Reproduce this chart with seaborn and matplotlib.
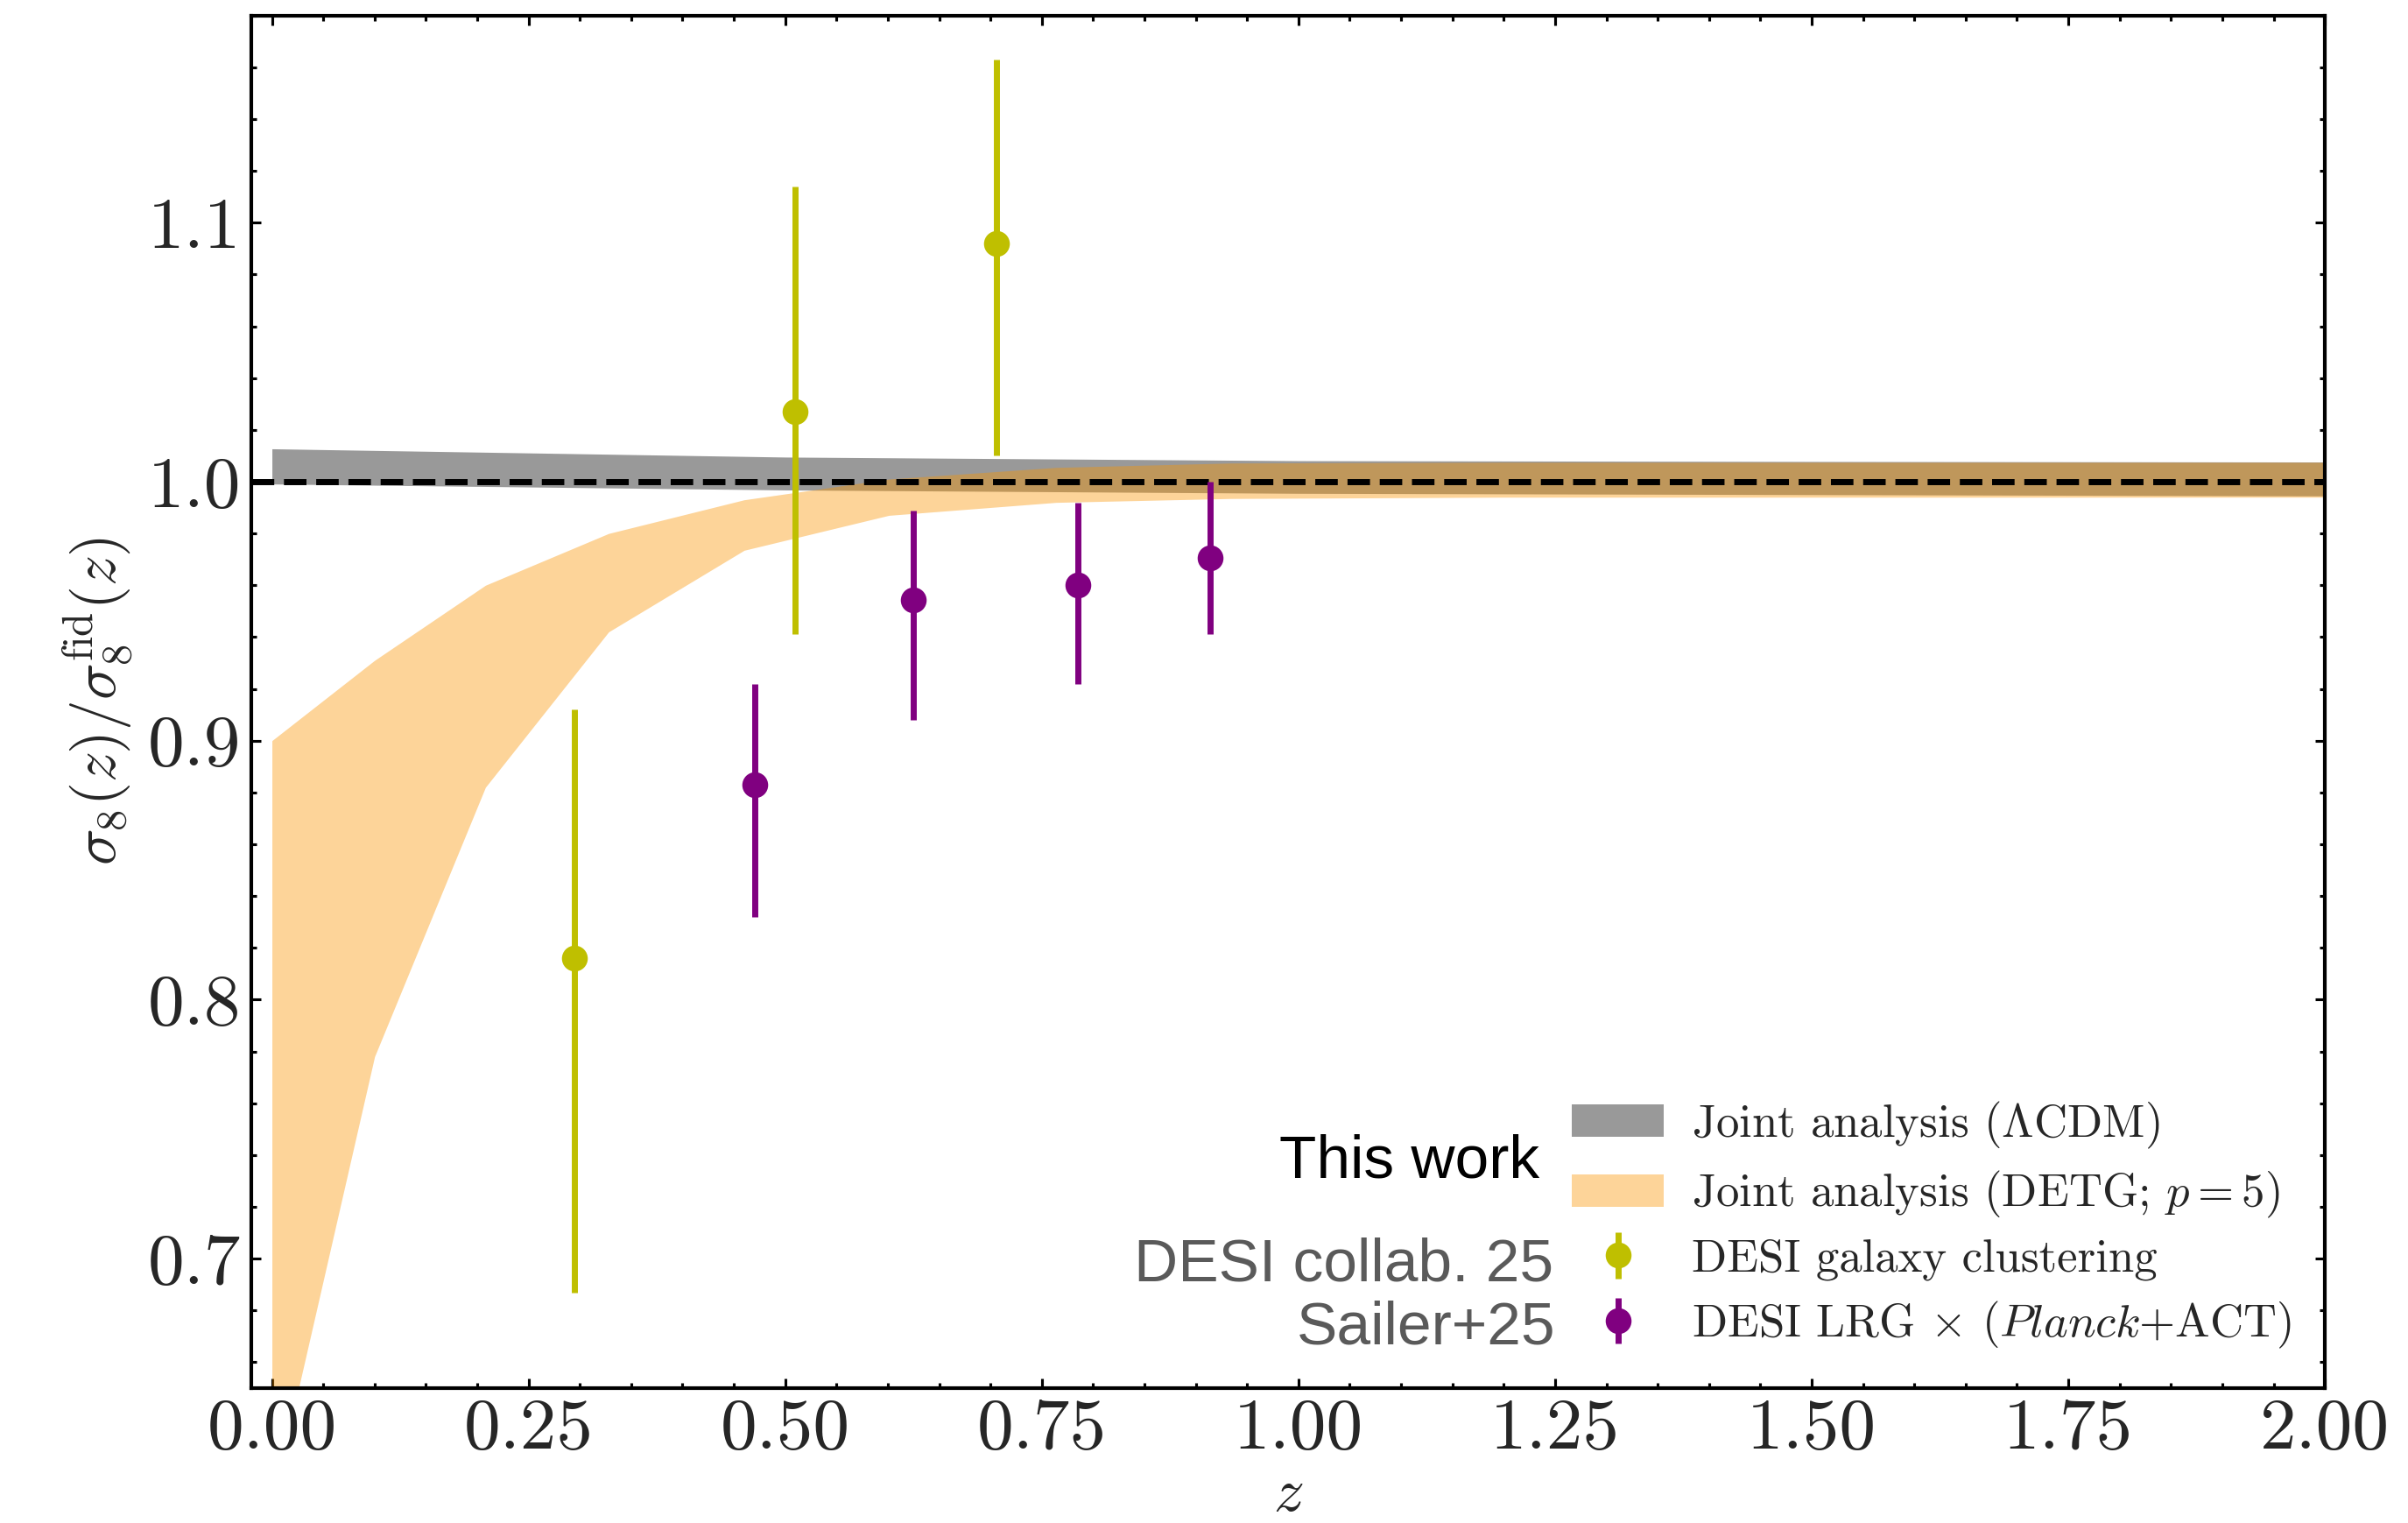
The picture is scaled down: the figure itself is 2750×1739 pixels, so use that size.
import numpy as np
import pandas as pd
import matplotlib
matplotlib.use("Agg")
import matplotlib.pyplot as plt
from matplotlib.ticker import MultipleLocator, FuncFormatter
import seaborn as sns

# ---- data ----
z_lcdm = [0.0, 0.5, 1.0, 1.5, 2.0]
lcdm_hi = [1.0127, 1.0095, 1.0081, 1.0078, 1.0076]
lcdm_lo = [0.9991, 0.9968, 0.9955, 0.9950, 0.9945]

z_detg = [0.0, 0.1, 0.208, 0.328, 0.46, 0.601, 0.764, 0.934, 1.2, 1.5, 2.0]
detg_hi = [0.900, 0.931, 0.960, 0.980, 0.993, 1.001, 1.0055, 1.0072, 1.0075, 1.0075, 1.0075]
detg_lo = [0.605, 0.778, 0.882, 0.942, 0.9735, 0.987, 0.992, 0.9935, 0.994, 0.994, 0.994]

z_gc = [0.295, 0.510, 0.706]
s8_gc = [0.816, 1.027, 1.092]
err_gc_lo = [0.129, 0.086, 0.082]
err_gc_hi = [0.096, 0.087, 0.071]

z_lrg = [0.470, 0.625, 0.785, 0.914]
s8_lrg = [0.883, 0.9545, 0.960, 0.9705]
err_lrg_lo = [0.051, 0.0465, 0.038, 0.0295]
err_lrg_hi = [0.039, 0.0345, 0.032, 0.0295]

labels = [r"Joint analysis ($\Lambda$CDM)",
          r"Joint analysis (DETG; $p=5$)",
          "DESI galaxy clustering",
          r"DESI LRG $\times$ ($Planck$+ACT)"]
side_texts = ["This work", "DESI collab. 25", "Sailer+25"]

# ---- style ----
sns.set_style("ticks")
plt.rcParams["font.family"] = ["cmr10", "DejaVu Serif"]
plt.rcParams["mathtext.fontset"] = "cm"
plt.rcParams["axes.unicode_minus"] = False
plt.rcParams["axes.formatter.use_mathtext"] = True

fig = plt.figure(figsize=(11, 6.956), dpi=250)
ax = fig.add_axes([0.1044, 0.0886, 0.9655 - 0.1044, 0.9898 - 0.0886])

ax.fill_between(z_lcdm, lcdm_lo, lcdm_hi, color="gray", alpha=0.8, lw=0,
                label=labels[0], zorder=1)
ax.fill_between(z_detg, detg_lo, detg_hi, color="#fa9400", alpha=0.4, lw=0,
                label=labels[1], zorder=2)

ax.axhline(1.0, color="black", ls="--", lw=2, zorder=3)

ax.errorbar(z_gc, s8_gc, yerr=[err_gc_lo, err_gc_hi], fmt="o", color="#bfbf00",
            ms=7.5, elinewidth=2, capsize=0, label=labels[2], zorder=4)
ax.errorbar(z_lrg, s8_lrg, yerr=[err_lrg_lo, err_lrg_hi], fmt="o", color="purple",
            ms=7.5, elinewidth=2, capsize=0, label=labels[3], zorder=4)

df_gc = pd.DataFrame({"z": z_gc, "s8": s8_gc})
df_lrg = pd.DataFrame({"z": z_lrg, "s8": s8_lrg})
sns.scatterplot(data=df_gc, x="z", y="s8", color="#bfbf00", s=60, linewidth=0,
                ax=ax, zorder=5, legend=False)
sns.scatterplot(data=df_lrg, x="z", y="s8", color="purple", s=60, linewidth=0,
                ax=ax, zorder=5, legend=False)

ax.set_xlim(-0.02, 2.0)
ax.set_ylim(0.65, 1.18)

ax.xaxis.set_major_locator(MultipleLocator(0.25))
ax.xaxis.set_minor_locator(MultipleLocator(0.05))
ax.yaxis.set_major_locator(MultipleLocator(0.1))
ax.yaxis.set_minor_locator(MultipleLocator(0.02))
ax.xaxis.set_major_formatter(FuncFormatter(lambda v, p: f"{v:.2f}"))
ax.yaxis.set_major_formatter(FuncFormatter(lambda v, p: f"{v:.1f}"))

ax.tick_params(which="both", direction="in", top=True, right=True, width=0.9,
               labelsize=24, color="black")
ax.tick_params(which="major", length=3.2)
ax.tick_params(which="minor", length=1.6)
for s in ax.spines.values():
    s.set_linewidth(1.2)
    s.set_color("black")

ax.set_xlabel(r"$z$", fontsize=20, labelpad=2)
ax.set_ylabel(r"$\sigma_8(z)/\sigma_8^{\rm fid}(z)$", fontsize=20, labelpad=4)

leg = ax.legend(loc="lower right", frameon=False, fontsize=15.2,
                handlelength=2.0, handletextpad=0.6, labelspacing=0.41,
                bbox_to_anchor=(1.004, -0.003))

ax.text(0.621, 0.165, side_texts[0], transform=ax.transAxes, ha="right",
        va="center", fontsize=20, family="Liberation Sans", color="black")
ax.text(0.628, 0.0895, side_texts[1], transform=ax.transAxes, ha="right",
        va="center", fontsize=20, family="Liberation Sans", color="#5a5a5a")
ax.text(0.629, 0.0435, side_texts[2], transform=ax.transAxes, ha="right",
        va="center", fontsize=20, family="Liberation Sans", color="#5a5a5a")

fig.savefig("out.png", dpi=250)
